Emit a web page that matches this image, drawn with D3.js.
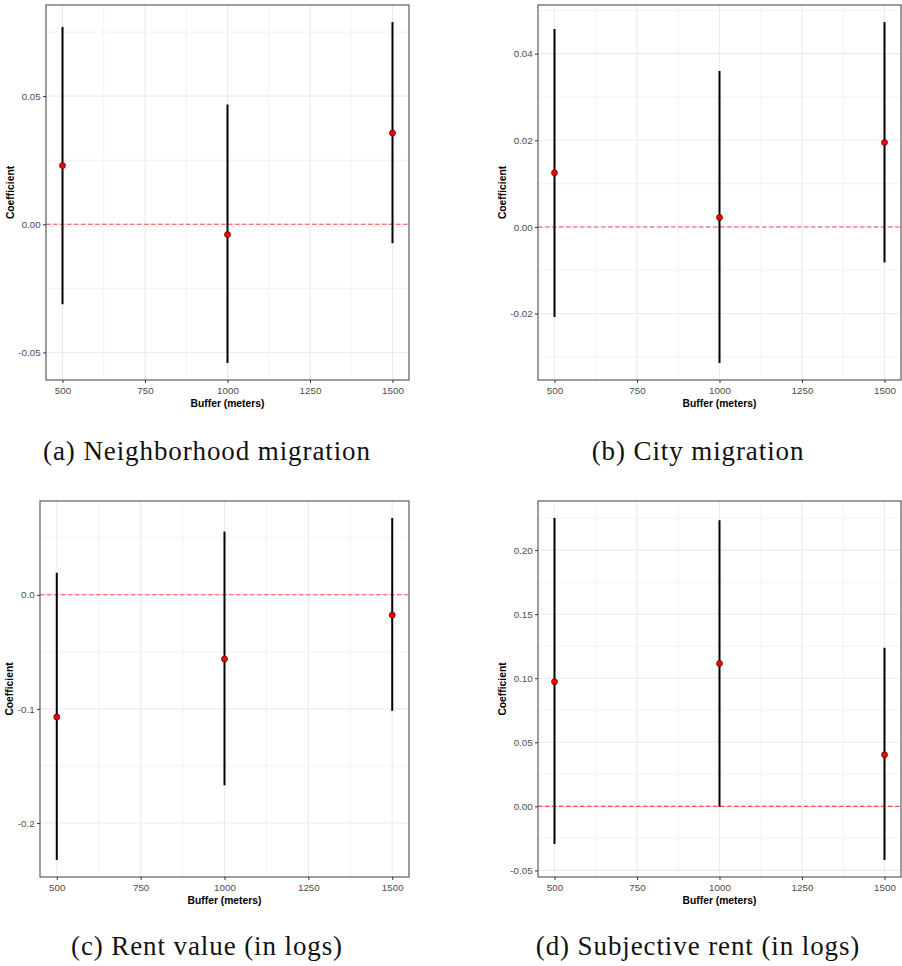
<!DOCTYPE html>
<html>
<head>
<meta charset="utf-8">
<script src="https://cdn.jsdelivr.net/npm/d3@7"></script>
<style>
  body { margin: 0; background: #fff; }
  svg { display: block; }
</style>
</head>
<body>
<svg width="902" height="966"></svg>
<script>
// Shared x values
var buffers = [500, 1000, 1500]
var xTicks = [500, 750, 1000, 1250, 1500]

// (a) Neighborhood migration
var neighEst = [0.0229, -0.0040, 0.0356]
var neighLow = [-0.0312, -0.0541, -0.0074]
var neighHigh = [0.0770, 0.0467, 0.0789]
var neighTicks = [-0.05, 0.00, 0.05]
var neighTickLabels = ['-0.05', '0.00', '0.05']

// (b) City migration
var cityEst = [0.0125, 0.0022, 0.0195]
var cityLow = [-0.0208, -0.0314, -0.0082]
var cityHigh = [0.0457, 0.0360, 0.0473]
var cityTicks = [-0.02, 0.00, 0.02, 0.04]
var cityTickLabels = ['-0.02', '0.00', '0.02', '0.04']

// (c) Rent value (in logs)
var rentEst = [-0.1071, -0.0563, -0.0178]
var rentLow = [-0.2323, -0.1670, -0.1016]
var rentHigh = [0.0193, 0.0554, 0.0672]
var rentTicks = [-0.2, -0.1, 0.0]
var rentTickLabels = ['-0.2', '-0.1', '0.0']

// (d) Subjective rent (in logs)
var subjEst = [0.0973, 0.1115, 0.0403]
var subjLow = [-0.0293, -0.0003, -0.0418]
var subjHigh = [0.2250, 0.2234, 0.1238]
var subjTicks = [-0.05, 0.00, 0.05, 0.10, 0.15, 0.20]
var subjTickLabels = ['-0.05', '0.00', '0.05', '0.10', '0.15', '0.20']

var captions = [
  '(a) Neighborhood migration',
  '(b) City migration',
  '(c) Rent value (in logs)',
  '(d) Subjective rent (in logs)'
]
var xTitle = 'Buffer (meters)'
var yTitle = 'Coefficient'

// Layout of the four panels
var panels = [
  { box: [46, 5, 409, 380], est: neighEst, low: neighLow, high: neighHigh, ticks: neighTicks, labels: neighTickLabels, caption: captions[0], cx: 207, cy: 460 },
  { box: [538, 5, 901, 380], est: cityEst, low: cityLow, high: cityHigh, ticks: cityTicks, labels: cityTickLabels, caption: captions[1], cx: 698, cy: 460 },
  { box: [40, 501, 409, 877], est: rentEst, low: rentLow, high: rentHigh, ticks: rentTicks, labels: rentTickLabels, caption: captions[2], cx: 207, cy: 955 },
  { box: [538, 501, 901, 877], est: subjEst, low: subjLow, high: subjHigh, ticks: subjTicks, labels: subjTickLabels, caption: captions[3], cx: 698, cy: 955 }
]

var svg = d3.select('svg')
var sans = 'Liberation Sans, Arial, sans-serif'

// ggplot-like 5% expansion
function expand(lo, hi) {
  var pad = (hi - lo) * 0.05
  return [lo - pad, hi + pad]
}

// midpoints between major breaks (minor grid)
function minors(ticks, domain) {
  var step = ticks[1] - ticks[0]
  var out = []
  for (var i = -1; i < ticks.length; i++) {
    var v = ticks[0] + step * (i + 0.5)
    if (v > domain[0] && v < domain[1]) out.push(v)
  }
  return out
}

function drawPanel(p) {
  var left = p.box[0], top = p.box[1], right = p.box[2], bottom = p.box[3]

  var x = d3.scaleLinear()
    .domain(expand(d3.min(buffers), d3.max(buffers)))
    .range([left, right])
  var y = d3.scaleLinear()
    .domain(expand(d3.min(p.low), d3.max(p.high)))
    .range([bottom, top])

  var g = svg.append('g')

  // grid
  var xMin = minors(xTicks, x.domain())
  var yMin = minors(p.ticks, y.domain())
  g.selectAll('.gxm').data(xMin).enter().append('line')
    .attr('x1', d => x(d)).attr('x2', d => x(d))
    .attr('y1', top).attr('y2', bottom)
    .attr('stroke', '#ebebeb').attr('stroke-width', 0.6)
  g.selectAll('.gym').data(yMin).enter().append('line')
    .attr('x1', left).attr('x2', right)
    .attr('y1', d => y(d)).attr('y2', d => y(d))
    .attr('stroke', '#ebebeb').attr('stroke-width', 0.6)
  g.selectAll('.gx').data(xTicks).enter().append('line')
    .attr('x1', d => x(d)).attr('x2', d => x(d))
    .attr('y1', top).attr('y2', bottom)
    .attr('stroke', '#ebebeb').attr('stroke-width', 1.1)
  g.selectAll('.gy').data(p.ticks).enter().append('line')
    .attr('x1', left).attr('x2', right)
    .attr('y1', d => y(d)).attr('y2', d => y(d))
    .attr('stroke', '#ebebeb').attr('stroke-width', 1.1)

  // zero reference line
  g.append('line')
    .attr('x1', left).attr('x2', right)
    .attr('y1', y(0)).attr('y2', y(0))
    .attr('stroke', '#ff4a4a').attr('stroke-width', 1.1)
    .attr('stroke-dasharray', '4.5,2.5')

  // confidence intervals
  g.selectAll('.ci').data(buffers).enter().append('line')
    .attr('x1', d => x(d)).attr('x2', d => x(d))
    .attr('y1', (d, i) => y(p.low[i])).attr('y2', (d, i) => y(p.high[i]))
    .attr('stroke', '#000').attr('stroke-width', 2)

  // point estimates
  g.selectAll('.pt').data(buffers).enter().append('circle')
    .attr('cx', d => x(d)).attr('cy', (d, i) => y(p.est[i]))
    .attr('r', 3)
    .attr('fill', '#ff0000').attr('stroke', '#3a0000').attr('stroke-width', 0.7)

  // border
  g.append('rect')
    .attr('x', left).attr('y', top)
    .attr('width', right - left).attr('height', bottom - top)
    .attr('fill', 'none').attr('stroke', '#4d4d4d').attr('stroke-width', 1.1)

  // axes
  var ax = g.append('g')
    .attr('transform', 'translate(0,' + bottom + ')')
    .call(d3.axisBottom(x).tickValues(xTicks).tickFormat(d3.format('d')).tickSize(3).tickPadding(3.8).tickSizeOuter(0))
  var ay = g.append('g')
    .attr('transform', 'translate(' + left + ',0)')
    .call(d3.axisLeft(y).tickValues(p.ticks).tickFormat((d, i) => p.labels[i]).tickSize(3).tickPadding(2.3).tickSizeOuter(0))
  ;[ax, ay].forEach(a => {
    a.select('.domain').remove()
    a.selectAll('.tick line').attr('stroke', '#333').attr('stroke-width', 1)
    a.selectAll('.tick text')
      .attr('fill', '#4d4d4d')
      .style('font-family', sans)
      .style('font-size', '9.8px')
  })

  // axis titles
  g.append('text')
    .attr('x', (left + right) / 2).attr('y', bottom + 27)
    .attr('text-anchor', 'middle')
    .style('font-family', sans).style('font-size', '10.3px').style('font-weight', 'bold')
    .text(xTitle)

  var labLeft = left + ay.node().getBBox().x
  var tx = labLeft - 8
  g.append('text')
    .attr('transform', 'translate(' + tx + ',' + (top + bottom) / 2 + ') rotate(-90)')
    .attr('dy', '0.35em')
    .attr('text-anchor', 'middle')
    .style('font-family', sans).style('font-size', '10.3px').style('font-weight', 'bold')
    .text(yTitle)

  // subfigure caption
  svg.append('text')
    .attr('x', p.cx).attr('y', p.cy)
    .attr('text-anchor', 'middle')
    .style('font-family', 'Liberation Serif, Times New Roman, serif')
    .style('font-size', '27px')
    .style('letter-spacing', '0.9px')
    .attr('fill', '#111')
    .text(p.caption)
}

panels.forEach(drawPanel)
</script>
</body>
</html>
